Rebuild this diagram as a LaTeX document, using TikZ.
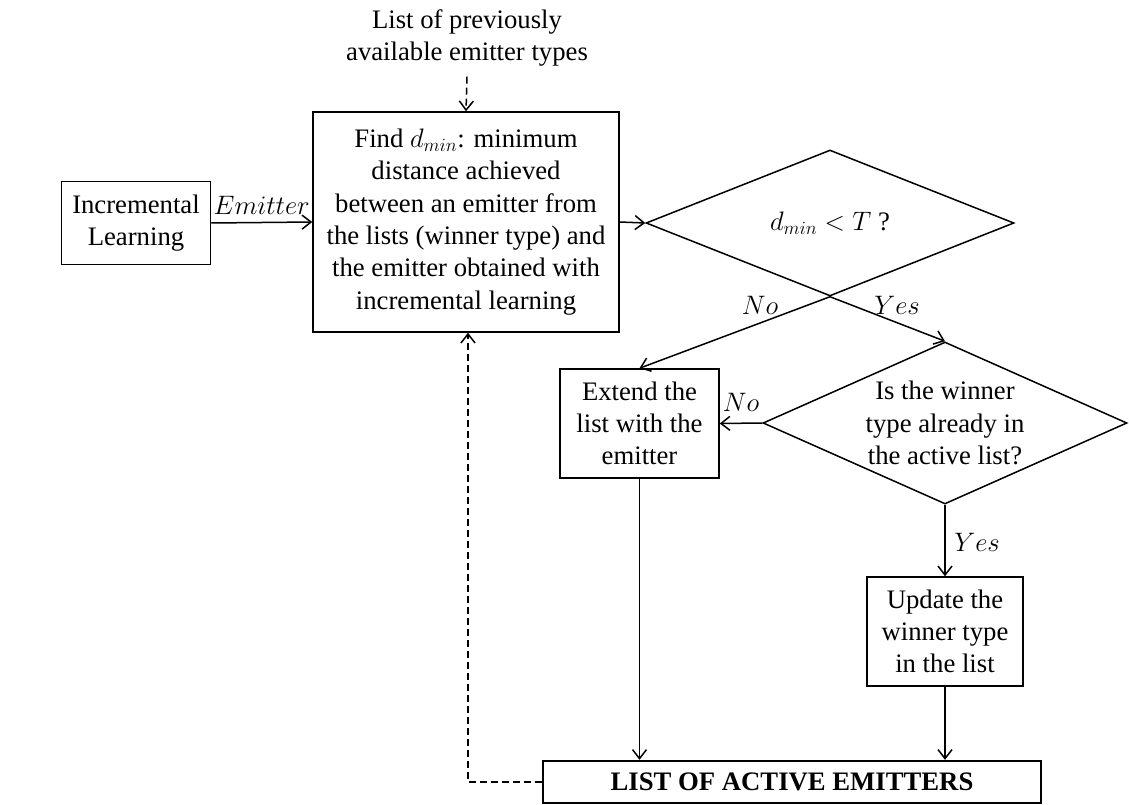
\RequirePackage{fix-cm}
\documentclass[tikz,border=0pt]{standalone}
\usepackage{fontspec}
\setmainfont{Liberation Serif}
\usetikzlibrary{arrows.meta,shapes.geometric}
\begin{document}
\begin{tikzpicture}[x=1pt,y=-1pt,
  every node/.style={font=\fontsize{26.7}{32.3}\selectfont},
  box/.style={draw, line width=1.5pt, inner sep=0pt, align=center},
  dia/.style={draw, diamond, line width=1.5pt, inner sep=0pt},
  txt/.style={align=center, inner sep=0pt},
  lbl/.style={inner sep=0pt},
  arr/.style={line width=1.5pt, -{Straight Barb[length=9pt,width=14pt,line width=1.5pt]}},
  dasharr/.style={arr, dash pattern=on 7pt off 4pt}]
\useasboundingbox (0,0) rectangle (1129,805);

% process boxes
\node[box, minimum width=149pt, minimum height=83pt] (inc) at (136,223) {Incremental\\Learning};
\node[box, minimum width=306pt, minimum height=220pt] (find) at (466,222)
  {Find $d_{min}$: minimum\\distance achieved\\between an emitter from\\the lists (winner type) and\\the emitter obtained with\\incremental learning};
\node[box, minimum width=159pt, minimum height=109pt] (ext) at (639.5,423.5) {Extend the\\list with the\\emitter};
\node[box, minimum width=156pt, minimum height=109pt] (upd) at (945,631.5) {Update the\\winner type\\in the list};
\node[box, line width=2.4pt, minimum width=498pt, minimum height=42pt] (list) at (792,782) {\textbf{LIST OF ACTIVE EMITTERS}};

% decisions
\node[dia, minimum width=368pt, minimum height=146pt] (d1) at (830,223) {};
\node[txt] (d1t) at (d1.center) {$d_{min} < T$ ?};
\node[dia, minimum width=364pt, minimum height=162pt] (d2) at (945,423) {};
\node[txt] (d2t) at (d2.center) {Is the winner\\type already in\\the active list?};

% input list
\node[txt] (src) at (467,38) {List of previously\\available emitter types};

% connectors
\draw[dasharr] ([yshift=-10pt]src.south) -- (find.north);
\draw[arr] (inc.east) -- node[lbl, above=7pt] (lemit) {$Emitter$} (find.west);
\draw[arr] (find.east) -- (d1.west);
\draw[arr] (d1.south) -- (ext.north);
\draw[arr] (d1.south) -- (d2.north);
\draw[arr] (d2.west) -- (ext.east);
\draw[arr] (d2.south) -- (upd.north);
\draw[arr] (ext.south) -- (ext.south |- list.north);
\draw[arr] (upd.south) -- (upd.south |- list.north);
\draw[dasharr] (list.west) -| ([xshift=2pt]find.south);

% branch labels
\node[lbl] (lno1) at (760,305) {$No$};
\node[lbl] (lyes1) at (897,305) {$Yes$};
\node[lbl] (lno2) at (741,402) {$No$};
\node[lbl] (lyes2) at (977,542) {$Yes$};
\end{tikzpicture}
\end{document}
